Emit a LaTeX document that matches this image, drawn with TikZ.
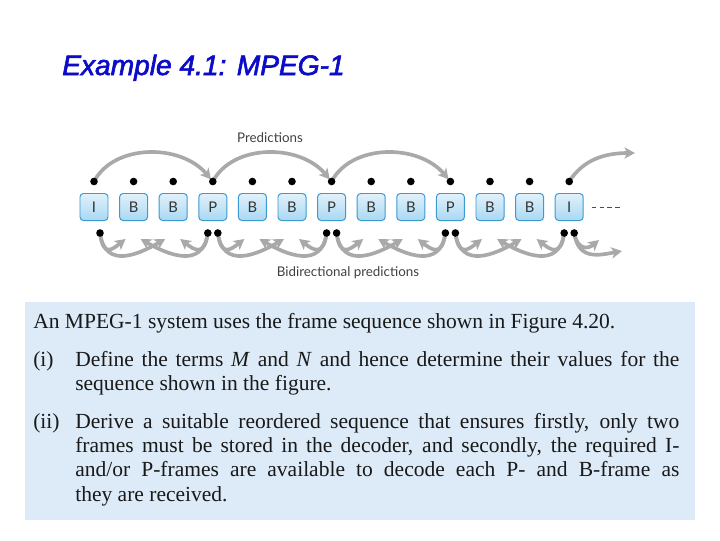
\documentclass[tikz,border=0pt]{standalone}
\usepackage{fontspec}
\setmainfont{Liberation Serif}
\newfontfamily\figfont{Lato}
\newfontfamily\headfont[FakeBold=2.2]{Liberation Sans}
\usetikzlibrary{arrows.meta,positioning,calc}
\definecolor{TitleBlue}{HTML}{0C0CC8}
\definecolor{FrameEdge}{HTML}{3C9AD2}
\definecolor{FrameFill}{HTML}{A9D8F2}
\definecolor{ArcGray}{HTML}{A9A9A9}
\definecolor{PanelBlue}{HTML}{DCEBF7}
\tikzset{
  % Frame box
  FR/.style={rectangle,rounded corners=2.5pt,
             minimum width=0.7cm,minimum height=0.675cm,inner sep=0pt,
             draw=FrameEdge,line width=0.7pt,
             top color=FrameFill!35,bottom color=FrameFill,
             font=\figfont\fontsize{10.5}{12}\selectfont,text=black!80},
  % Dot
  DT/.style={circle,fill=black,inner sep=0pt,minimum size=0.19cm},
  % Arrows
  pa/.style={-{Stealth[length=7.5pt,width=8pt,inset=2pt]},ArcGray,line width=2.6pt},
  ba/.style={pa},
  dl/.style={black!70,line width=0.6pt,dash pattern=on 3.2pt off 2.4pt},
  % Text styles
  LB/.style={font=\figfont\fontsize{9.5}{11}\selectfont,text=black!75,inner sep=0pt},
  QT/.style={font=\fontsize{15.3}{17.4}\selectfont,inner sep=0pt,text=black!90},
  QB/.style={QT,text width=15.1cm,align=justify}
}
\begin{document}
\begin{tikzpicture}[x=0.025cm,y=-0.025cm]
  \useasboundingbox (0,0) rectangle (720,540);

  % title
  \node[anchor=base west,inner sep=0pt,text=TitleBlue,
        font=\headfont\itshape\fontsize{20}{22}\selectfont] (title) at (62,75) {Example 4.1: MPEG-1};

  % frames
  \foreach \t [count=\i from 0] in {I,B,B,P,B,B,P,B,B,P,B,B,I}
    \node[FR] (f\i) at ({94+39.6*\i},207) {\t};

  % dots and end points
  \foreach \i in {0,...,12}
    \coordinate (t\i) at ($(f\i.north)+(0,-11.5)$);
  \coordinate (br0) at ($(f0.south)+(6,12)$);
  \foreach \i in {3,6,9,12}{
    \coordinate (bl\i) at ($(f\i.south)+(-5,12)$);
    \coordinate (br\i) at ($(f\i.south)+(5,12)$);
  }
  \foreach \i in {1,2,4,5,7,8,10,11}{
    \coordinate (f\i-fl) at ($(f\i.south)+(-8,18)$);
    \coordinate (f\i-fr) at ($(f\i.south)+(7,18)$);
  }
  \coordinate (pend) at (635,153);
  \coordinate (bend1) at (599,240);
  \coordinate (bend2) at (622,251);
  \coordinate (dend) at (620,207);

  % predictions
  \foreach \a/\p in {0/3,3/6,6/9}
    \draw[pa,shorten >=2pt] (t\a) .. controls +(20,-38) and +(-32,-38) .. (t\p);
  \draw[pa] (t12) .. controls +(14,-22) and +(-30,0) .. (pend);

  % bidirectional predictions
  \foreach \a/\b/\c/\p in {0/1/2/3,3/4/5/6,6/7/8/9,9/10/11/12}{
    \draw[ba] (br\a) .. controls +(3,24) and +(-14,11) .. (f\b-fl);
    \draw[ba] (br\a) .. controls +(5,37) and +(-26,15) .. (f\c-fl);
    \draw[ba] (bl\p) .. controls +(-3,24) and +(14,11) .. (f\c-fr);
    \draw[ba] (bl\p) .. controls +(-5,37) and +(26,15) .. (f\b-fr);
  }
  \draw[ba] (br12) .. controls +(3,16) and +(-12,10) .. (bend1);
  \draw[ba] (br12) .. controls +(4,28) and +(-22,4) .. (bend2);

  \foreach \i in {0,...,12}
    \node[DT] at (t\i) {};
  \foreach \i in {0,3,6,9,12}
    \node[DT] at (br\i) {};
  \foreach \i in {3,6,9,12}
    \node[DT] at (bl\i) {};

  \draw[dl,shorten <=0.2cm] (f12.east) -- (dend);

  \node[LB] (pred)  at (270,138) {Predictions};
  \node[LB] (bidir) at (348,273) {Bidirectional predictions};

  % question panel
  \fill[PanelBlue] (25,302) rectangle (695,520);
  \node[QT,anchor=base west] (q0) at (33,328) {An MPEG-1 system uses the frame sequence shown in Figure 4.20.};
  \node[QT,anchor=base west] (n1) at (33,366) {(i)};
  \node[QB,anchor=base west] (q1) at (75,366)
    {Define the terms \emph{M} and \emph{N} and hence determine their values for the\linebreak sequence shown in the figure.};
  \node[QT,anchor=base west] (n2) at (33,428) {(ii)};
  \node[QB,anchor=base west] (q2) at (75,428)
    {Derive a suitable reordered sequence that ensures firstly, only two\linebreak
     frames must be stored in the decoder, and secondly, the required I-\linebreak
     and/or P-frames are available to decode each P- and B-frame as\linebreak
     they are received.};
\end{tikzpicture}
\end{document}
